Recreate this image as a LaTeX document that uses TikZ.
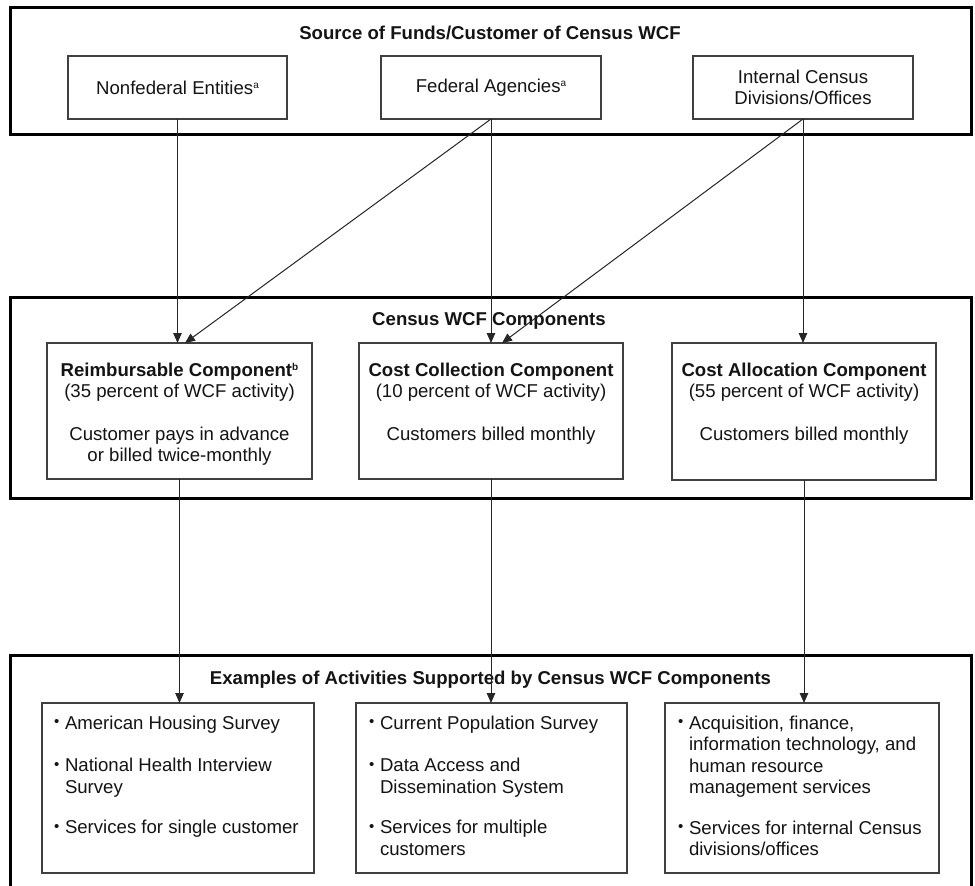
\documentclass[tikz,border=0pt]{standalone}
\usepackage{fontspec}
\setmainfont{Liberation Sans}
\usetikzlibrary{arrows.meta}
\newcommand{\mybul}{\makebox[11pt][l]{\raisebox{2.5pt}{\fontsize{15}{15}\selectfont\textbullet}}}
\newcommand{\myind}{\hspace*{11pt}}
\newcommand{\mysup}[1]{\raisebox{5.5pt}{\fontsize{10}{10}\selectfont #1}}
\begin{document}
\begin{tikzpicture}[x=1pt,y=-1pt,
  txt/.style={font=\fontsize{18.6}{21.5}\selectfont, text=black!92, inner sep=0pt, outer sep=0pt},
  bld/.style={txt, font=\fontsize{18.6}{21.5}\selectfont\bfseries},
  frame/.style={draw=black, line width=3pt, inner sep=0pt, outer sep=0pt},
  box/.style={txt, draw=black!75, line width=1.3pt, align=center},
  arr/.style={draw=black!85, line width=1pt, -{Triangle[length=10pt,width=8.5pt]}},
  ln/.style={draw=black!85, line width=1pt}]
\useasboundingbox (0,0) rectangle (975,886);
\fill[white] (0,0) rectangle (975,886);

% outer frames
\node[frame, minimum width=961pt, minimum height=127pt] (topframe) at (490.5,70.5) {};
\node[frame, minimum width=961pt, minimum height=201pt] (midframe) at (490.5,397.5) {};
\draw[line width=3pt] (10,886) -- (10,655) -- (971,655) -- (971,886);

% titles
\node[bld, anchor=base] (t1) at (490,39) {Source of Funds/Customer of Census WCF};
\node[bld, anchor=base] (t2) at (489,325.5) {Census WCF Components};
\node[bld, anchor=base] (t3) at (490.5,684.5) {Examples of Activities Supported by Census WCF Components};

% source boxes
\node[box, minimum width=219pt, minimum height=63pt] (nonfed) at (177.5,87.5) {Nonfederal Entities\mysup{a}};
\node[box, minimum width=220pt, minimum height=63pt] (fed) at (491,87.5) {Federal Agencies\mysup{a}};
\node[box, minimum width=220pt, minimum height=63pt] (intl) at (803,87.5) {Internal Census\\Divisions/Offices};

% component boxes
\node[box, minimum width=265pt, minimum height=136pt] (reimb) at (179.5,411) {};
\node[box, minimum width=264pt, minimum height=136pt] (cc) at (491,411) {};
\node[box, minimum width=264pt, minimum height=137pt] (ca) at (804,411.5) {};
\node[txt, anchor=north, align=center] (reimbtxt) at (179.5,363) {\textbf{Reimbursable Component\mysup{b}}\\(35 percent of WCF activity)\\[21pt]Customer pays in advance\\or billed twice-monthly};
\node[txt, anchor=north, align=center] (cctxt) at (491,363) {\textbf{Cost Collection Component}\\(10 percent of WCF activity)\\[21pt]Customers billed monthly};
\node[txt, anchor=north, align=center] (catxt) at (804,363) {\textbf{Cost Allocation Component}\\(55 percent of WCF activity)\\[21pt]Customers billed monthly};

% example boxes
\node[box, minimum width=272pt, minimum height=170pt] (ex1) at (178,788) {};
\node[box, minimum width=271pt, minimum height=170pt] (ex2) at (491.5,788) {};
\node[box, minimum width=274pt, minimum height=170pt] (ex3) at (802,788) {};
\node[txt, anchor=north west, align=left] (ex1txt) at (54,716) {\mybul American Housing Survey\\[21pt]\mybul National Health Interview\\\myind Survey\\[19pt]\mybul Services for single customer};
\node[txt, anchor=north west, align=left] (ex2txt) at (369,716) {\mybul Current Population Survey\\[21pt]\mybul Data Access and\\\myind Dissemination System\\[19pt]\mybul Services for multiple\\\myind customers};
\node[txt, anchor=north west, align=left] (ex3txt) at (678,716) {\mybul Acquisition, finance,\\\myind information technology, and\\\myind human resource\\\myind management services\\[19pt]\mybul Services for internal Census\\\myind divisions/offices};

% connectors
\draw[arr] (nonfed.south) -- (nonfed.south |- reimb.north);
\draw[arr] (fed.south) -- ([xshift=5.5pt]reimb.north);
\draw[arr] (fed.south) -- (fed.south |- cc.north);
\draw[arr] (intl.south) -- ([xshift=11pt]cc.north);
\draw[arr] (intl.south) -- (intl.south |- ca.north);
\draw[arr] (reimb.south) -- (reimb.south |- ex1.north);
\draw[arr] (cc.south) -- (cc.south |- ex2.north);
\draw[arr] (ca.south) -- (ca.south |- ex3.north);
\end{tikzpicture}
\end{document}
